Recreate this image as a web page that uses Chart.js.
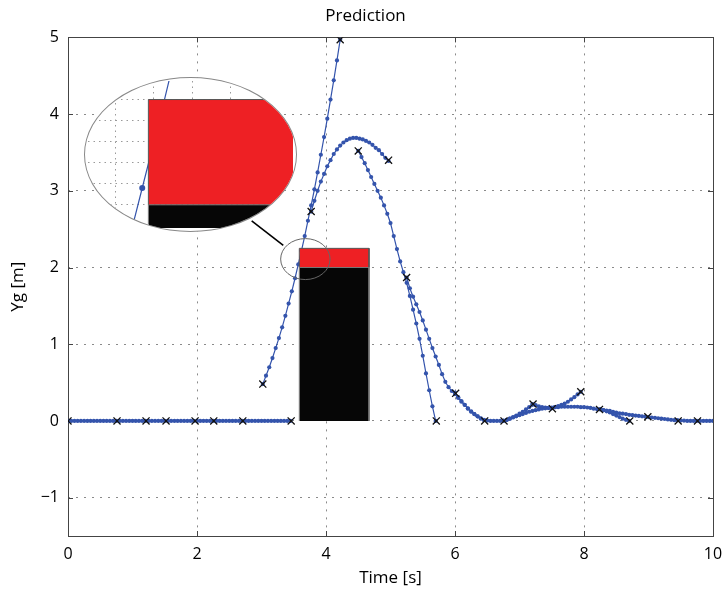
<!DOCTYPE html>
<html>
<head>
<meta charset="utf-8">
<script src="https://cdn.jsdelivr.net/npm/chart.js@4.4.0/dist/chart.umd.min.js"></script>
<style>
  body { margin: 0; background: #fff; }
  #wrap { position: relative; width: 723px; height: 590px; }
  #lens { position: absolute; border: 1px solid #888; border-radius: 50%; overflow: hidden; background: #fff; box-sizing: border-box; }
  #lens canvas { position: absolute; left: -1px; top: -1px; }
</style>
</head>
<body>
<div id="wrap">
  <canvas id="c" width="723" height="590"></canvas>
  <div id="lens"><canvas id="z"></canvas></div>
</div>
<script>
// ticks
const xTicks = [0, 2, 4, 6, 8, 10];
const yTicks = [-1, 0, 1, 2, 3, 4, 5];

// measurements (crosses)
const measT = [0, 0.76, 1.21, 1.52, 1.97, 2.26, 2.71, 3.02, 3.46, 3.77, 4.22, 4.50, 4.97, 5.25, 5.71, 6.01, 6.46, 6.76, 7.21, 7.51, 7.95, 8.24, 8.71, 8.99, 9.46, 9.76];
const measY = [0, 0, 0, 0, 0, 0, 0, 0.48, 0, 2.73, 4.97, 3.52, 3.40, 1.87, 0, 0.36, 0, 0, 0.22, 0.16, 0.38, 0.15, 0, 0.055, 0, 0];

// predicted trajectories, sampled every 0.05 s from their start time
const step = 0.05;
const flatStart = 0;
const flatY = [0,0,0,0,0,0,0,0,0,0, 0,0,0,0,0,0,0,0,0,0, 0,0,0,0,0,0,0,0,0,0,
               0,0,0,0,0,0,0,0,0,0, 0,0,0,0,0,0,0,0,0,0, 0,0,0,0,0,0,0,0,0,0,
               0,0,0,0,0,0,0,0,0,0];
const steepStart = 3.02;
const steepY = [0.48,0.59,0.70,0.82,0.95,1.08,1.22,1.37,1.53,1.69,1.86,2.04,2.22,2.41,2.61,2.81,3.02,3.24,3.47,3.70,3.94,4.19,4.44,4.70,4.97];
const archStart = 3.77;
const archY = [2.73,2.87,3.00,3.12,3.22,3.32,3.40,3.48,3.54,3.59,3.63,3.66,3.68,3.69,3.69,3.68,3.67,3.65,3.63,3.60,3.56,3.53,3.48,3.43,3.39];
const fallStart = 4.50;
const fallY = [3.52,3.44,3.36,3.27,3.18,3.09,3.00,2.91,2.81,2.70,2.58,2.41,2.24,2.08,1.94,1.80,1.63,1.45,1.27,1.07,0.85,0.62,0.40,0.19,0.00];
const bounceStart = 5.25;
const bounceY = [1.87,1.73,1.62,1.52,1.42,1.31,1.19,1.07,0.95,0.84,0.73,0.61,0.51,0.44,0.39,0.35,0.30,0.25,0.21,0.16,0.12,0.09,0.06,0.03,0.01];
const tailStart = 6.00;
const tailY = [0.37,0.31,0.26,0.21,0.165,0.125,0.09,0.06,0.035,0.015,
               0.005,0,0,0,0,0.005,0.015,0.03,0.045,0.06,
               0.075,0.09,0.105,0.12,0.13,0.14,0.15,0.16,0.165,0.17,
               0.175,0.18,0.18,0.185,0.185,0.185,0.185,0.185,0.185,0.18,
               0.18,0.175,0.17,0.16,0.155,0.15,0.14,0.135,0.13,0.12,
               0.11,0.10,0.095,0.09,0.08,0.075,0.07,0.065,0.06,0.055,
               0.05,0.045,0.04,0.035,0.03,0.025,0.02,0.015,0.01,0.01,
               0.005,0.005,0,0,0,0,0,0,0,0,
               0];
const riseAStart = 6.75;
const riseAY = [0,0.01,0.03,0.05,0.07,0.095,0.12,0.15,0.18,0.21];
const driftStart = 7.20;
const driftY = [0.22,0.205,0.19,0.18,0.175,0.17];
const riseBStart = 7.50;
const riseBY = [0.165,0.18,0.195,0.21,0.225,0.25,0.28,0.31,0.345,0.38];
const dropStart = 8.25;
const dropY = [0.155,0.14,0.125,0.11,0.09,0.07,0.05,0.03,0.015,0];

// obstacle box
const boxX = [3.586, 4.667];
const boxBlackTop = 2.0;
const boxRedTop = 2.25;

// magnifier: small circle, connector, lens window and lens axes range
const circC = [3.68, 2.11], circR = [0.383, 0.267];
const connector = [[2.848, 2.608], [3.338, 2.29]];
const lensBox = {x0: 0.248, x1: 3.55, yTop: 4.479, yBot: 2.461};
const lensX = [3.429, 3.962], lensY = [1.945, 2.294];
const lensGridX = [3.5, 3.6, 3.7, 3.8, 3.9];
const lensGridY = [2.0, 2.05, 2.1, 2.15, 2.2, 2.25];

const blue = 'rgb(52,84,172)';
const red = '#ee2024';
const black = '#060606';
const fam = "'Open Sans', sans-serif";

function seg(start, ys) {
  return ys.map((y, i) => ({x: +(start + step * i).toFixed(3), y: y}));
}
function predLine(start, ys, r) {
  return {data: seg(start, ys), showLine: true, borderColor: blue, borderWidth: 1.2,
    pointRadius: r, pointBackgroundColor: blue, pointBorderWidth: 0, fill: false, tension: 0};
}
function boxSets() {
  return [
    {data: [{x: boxX[0], y: 0}, {x: boxX[0], y: boxBlackTop}, {x: boxX[1], y: boxBlackTop}, {x: boxX[1], y: 0}],
     showLine: true, fill: 'origin', backgroundColor: black, borderColor: '#777', borderWidth: 1, pointRadius: 0},
    {data: [{x: boxX[0], y: boxBlackTop}, {x: boxX[0], y: boxRedTop}, {x: boxX[1], y: boxRedTop}, {x: boxX[1], y: boxBlackTop}],
     showLine: true, fill: {value: boxBlackTop}, backgroundColor: red, borderColor: '#555', borderWidth: 1, pointRadius: 0}
  ];
}

const framePlugin = {
  id: 'frame',
  beforeDatasetsDraw(chart) {
    const {ctx, chartArea: a, scales} = chart;
    ctx.save();
    ctx.strokeStyle = '#444';
    ctx.lineWidth = 1;
    ctx.strokeRect(Math.round(a.left) + 0.5, Math.round(a.top) + 0.5, Math.round(a.width), Math.round(a.height));
    ctx.beginPath();
    xTicks.forEach(v => {
      const px = Math.round(scales.x.getPixelForValue(v)) + 0.5;
      ctx.moveTo(px, a.bottom); ctx.lineTo(px, a.bottom - 5);
      ctx.moveTo(px, a.top); ctx.lineTo(px, a.top + 5);
    });
    yTicks.forEach(v => {
      const py = Math.round(scales.y.getPixelForValue(v)) + 0.5;
      ctx.moveTo(a.left, py); ctx.lineTo(a.left + 5, py);
      ctx.moveTo(a.right, py); ctx.lineTo(a.right - 5, py);
    });
    ctx.stroke();
    ctx.restore();
  },
  afterDatasetsDraw(chart) {
    const {ctx, scales} = chart;
    const X = v => scales.x.getPixelForValue(v), Y = v => scales.y.getPixelForValue(v);
    ctx.save();
    ctx.strokeStyle = '#666';
    ctx.lineWidth = 1;
    ctx.beginPath();
    ctx.ellipse(X(circC[0]), Y(circC[1]), X(circC[0] + circR[0]) - X(circC[0]), Y(circC[1]) - Y(circC[1] + circR[1]), 0, 0, Math.PI * 2);
    ctx.stroke();
    ctx.strokeStyle = '#000';
    ctx.lineWidth = 1.6;
    ctx.beginPath();
    ctx.moveTo(X(connector[0][0]), Y(connector[0][1]));
    ctx.lineTo(X(connector[1][0]), Y(connector[1][1]));
    ctx.stroke();
    ctx.restore();
  }
};

const mainChart = new Chart(document.getElementById('c'), {
  type: 'scatter',
  data: {
    datasets: [
      {data: measT.map((t, i) => ({x: t, y: measY[i]})), pointStyle: 'crossRot', pointRadius: 5,
       borderColor: '#111', borderWidth: 1.3, backgroundColor: 'transparent', showLine: false},
      ...boxSets(),
      predLine(flatStart, flatY, 2.1),
      predLine(steepStart, steepY, 2.1),
      predLine(archStart, archY, 2.1),
      predLine(fallStart, fallY, 2.1),
      predLine(bounceStart, bounceY, 2.1),
      predLine(tailStart, tailY, 2.1),
      predLine(riseAStart, riseAY, 2.1),
      predLine(driftStart, driftY, 2.1),
      predLine(riseBStart, riseBY, 2.1),
      predLine(dropStart, dropY, 2.1)
    ]
  },
  options: {
    responsive: false,
    animation: false,
    events: [],
    layout: {padding: {left: 8, right: 0, top: 0, bottom: 2}},
    plugins: {
      legend: {display: false},
      tooltip: {enabled: false},
      title: {display: true, text: 'Prediction', color: '#000',
        font: {family: fam, size: 17, weight: 'normal', lineHeight: 1.2}, padding: {top: 6, bottom: 11}}
    },
    scales: {
      x: {
        type: 'linear', min: 0, max: 10,
        afterBuildTicks: s => { s.ticks = xTicks.map(v => ({value: v})); },
        afterFit: s => { s.height = 52; s.paddingRight = 10; s.paddingLeft = 0; },
        ticks: {color: '#000', font: {family: fam, size: 16}, padding: 9, maxRotation: 0},
        grid: {color: '#8a8a8a', drawTicks: false},
        border: {display: false, dash: [2, 6]},
        title: {display: true, text: 'Time [s]', color: '#000', font: {family: fam, size: 17}, padding: {top: 0, bottom: 0}}
      },
      y: {
        type: 'linear', min: -1.5, max: 5,
        afterBuildTicks: s => { s.ticks = yTicks.map(v => ({value: v})); },
        afterFit: s => { s.width = 60; },
        ticks: {color: '#000', font: {family: fam, size: 16}, padding: 9,
          callback: v => String(v).replace('-', '\u2212')},
        grid: {color: '#8a8a8a', drawTicks: false},
        border: {display: false, dash: [2, 6]},
        title: {display: true, text: 'Yg [m]', color: '#000', font: {family: fam, size: 17}, padding: {top: 0, bottom: 6}}
      }
    }
  },
  plugins: [framePlugin]
});

// place the magnifier lens using the main chart's scales
const sx = mainChart.scales.x, sy = mainChart.scales.y;
const lensLeft = Math.round(sx.getPixelForValue(lensBox.x0));
const lensTop = Math.round(sy.getPixelForValue(lensBox.yTop));
const lensW = Math.round(sx.getPixelForValue(lensBox.x1)) - lensLeft;
const lensH = Math.round(sy.getPixelForValue(lensBox.yBot)) - lensTop;
const lens = document.getElementById('lens');
lens.style.left = lensLeft + 'px';
lens.style.top = lensTop + 'px';
lens.style.width = lensW + 'px';
lens.style.height = lensH + 'px';
const zc = document.getElementById('z');
zc.width = lensW;
zc.height = lensH;

new Chart(zc, {
  type: 'scatter',
  data: {
    datasets: [
      ...boxSets(),
      predLine(steepStart, steepY, 3)
    ]
  },
  options: {
    responsive: false,
    animation: false,
    events: [],
    layout: {padding: 0},
    plugins: {legend: {display: false}, tooltip: {enabled: false}},
    scales: {
      x: {
        type: 'linear', min: lensX[0], max: lensX[1],
        afterBuildTicks: s => { s.ticks = lensGridX.map(v => ({value: v})); },
        afterFit: s => { s.height = 0; },
        ticks: {display: false},
        grid: {color: '#9a9a9a', drawTicks: false},
        border: {display: false, dash: [1.5, 4]}
      },
      y: {
        type: 'linear', min: lensY[0], max: lensY[1],
        afterBuildTicks: s => { s.ticks = lensGridY.map(v => ({value: v})); },
        afterFit: s => { s.width = 0; },
        ticks: {display: false},
        grid: {color: '#9a9a9a', drawTicks: false},
        border: {display: false, dash: [1.5, 4]}
      }
    }
  }
});
</script>
</body>
</html>
